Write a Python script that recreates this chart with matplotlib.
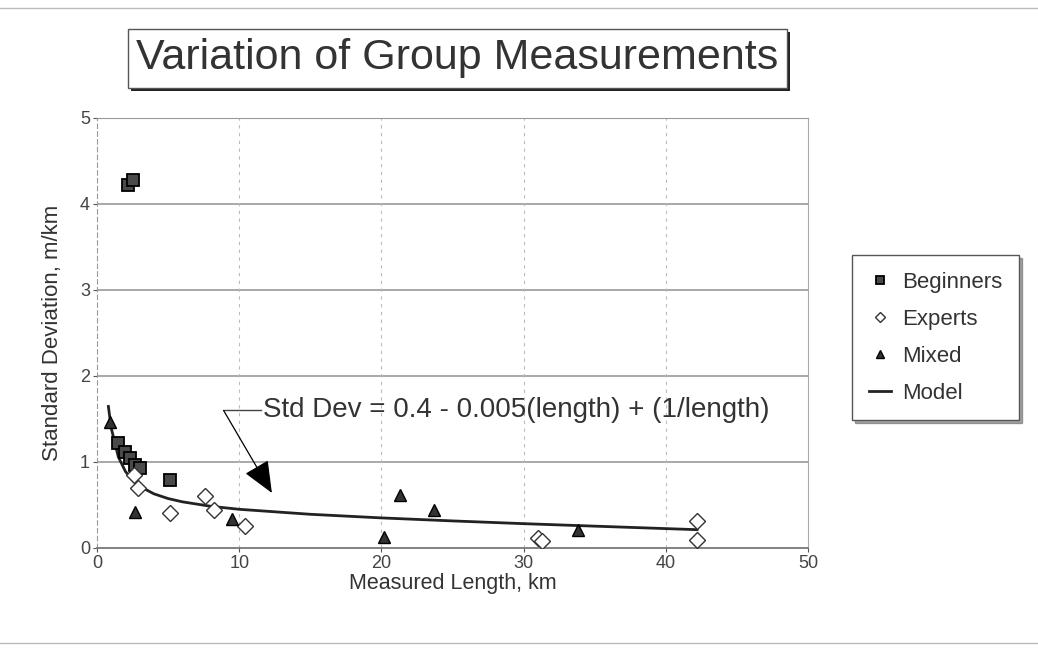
import numpy as np
import matplotlib.pyplot as plt
from matplotlib.patches import Rectangle

plt.rcParams['font.family'] = ['Liberation Sans', 'DejaVu Sans']

# data
beg_x = [1.5, 2.0, 2.3, 2.7, 3.0, 5.1, 2.2, 2.5]
beg_y = [1.22, 1.12, 1.05, 0.97, 0.93, 0.79, 4.22, 4.28]

exp_x = [2.6, 2.9, 5.1, 7.6, 8.2, 10.4, 31.0, 31.3, 42.2, 42.2]
exp_y = [0.85, 0.70, 0.41, 0.61, 0.44, 0.26, 0.12, 0.08, 0.31, 0.09]

mix_x = [0.9, 2.7, 9.5, 20.2, 21.3, 23.7, 33.8]
mix_y = [1.47, 0.42, 0.34, 0.125, 0.62, 0.44, 0.21]

# model curve, Std Dev = 0.4 - 0.005 L + 1/L, sampled values
mod_x = [0.8, 1.0, 1.5, 2.0, 2.5, 3.0, 4.0, 5.0, 6.0, 8.0, 10.0, 15.0, 20.0, 25.0, 30.0, 35.0, 42.2]
mod_y = [1.646, 1.395, 1.059, 0.890, 0.788, 0.718, 0.630, 0.575, 0.537, 0.485, 0.450, 0.392, 0.350, 0.315, 0.283, 0.254, 0.213]

fig = plt.figure(figsize=(10.38, 6.49), dpi=100)
ax = fig.add_axes([97/1038, 1-548/649, 711/1038, 430/649])

ax.plot(mod_x, mod_y, '-', color='#222222', lw=2, label='Model', zorder=2)
ax.plot(beg_x, beg_y, 's', ms=9, mfc='#4a4a4a', mec='black', mew=1.3, ls='none', label='Beginners', zorder=3)
ax.plot(exp_x, exp_y, 'D', ms=8, mfc='white', mec='#333333', mew=1.0, ls='none', label='Experts', zorder=3)
ax.plot(mix_x, mix_y, '^', ms=9, mfc='#333333', mec='black', ls='none', label='Mixed', zorder=3)

ax.set_xlim(0, 50)
ax.set_ylim(0, 5)
ax.set_xticks([0, 10, 20, 30, 40, 50])
ax.set_yticks([0, 1, 2, 3, 4, 5])
ax.tick_params(labelsize=13, colors='#555555', length=3, pad=2)
for t in ax.get_xticklabels() + ax.get_yticklabels():
    t.set_color('#444444')

for yv in [1, 2, 3, 4]:
    ax.axhline(yv, color='#999999', lw=1.2, zorder=0)
for xv in [10, 20, 30, 40]:
    ax.axvline(xv, color='#bbbbbb', lw=0.8, ls=(0, (3, 4)), zorder=0)
ax.spines['top'].set_color('#999999')
ax.spines['right'].set_color('#aaaaaa')
ax.spines['left'].set_color('#999999')
ax.spines['left'].set_linestyle((0, (4, 3)))
ax.spines['bottom'].set_color('#777777')
ax.spines['bottom'].set_linewidth(1.3)

ax.set_xlabel('Measured Length, km', fontsize=15.5, color='#333333', labelpad=1)
ax.set_ylabel('Standard Deviation, m/km', fontsize=16, color='#333333', labelpad=12)

# equation label with leader and arrow
ax.text(11.7, 1.6, 'Std Dev = 0.4 - 0.005(length) + (1/length)', fontsize=20,
        color='#333333', va='center', ha='left')
ax.plot([8.9, 11.5], [1.6, 1.6], color='#444444', lw=1)
ax.annotate('', xy=(12.3, 0.64), xytext=(8.9, 1.6),
            arrowprops=dict(arrowstyle='-|>,head_length=2.0,head_width=0.85',
                            color='black', lw=0.9, shrinkA=0, shrinkB=0))

# legend with shadow
handles, labels = ax.get_legend_handles_labels()
order = [1, 2, 3, 0]
leg = fig.legend([handles[i] for i in order], [labels[i] for i in order],
                 loc='upper left', bbox_to_anchor=(852/1038, 1-255/649),
                 fontsize=16, frameon=True, fancybox=False, shadow=True,
                 handlelength=1.0, markerscale=0.65, labelspacing=0.72,
                 borderpad=0.75, handletextpad=0.5, borderaxespad=0)
leg.get_frame().set_edgecolor('#555555')
leg.get_frame().set_linewidth(1)
for t in leg.get_texts():
    t.set_color('#333333')

# title box with shadow
tx0, ty0, tx1, ty1 = 128, 29, 787, 88
fig.patches.append(Rectangle((tx0/1038 + 3/1038, 1-ty1/649 - 3/649),
                             (tx1-tx0)/1038, (ty1-ty0)/649,
                             transform=fig.transFigure, facecolor='#222222',
                             edgecolor='none', zorder=1))
fig.patches.append(Rectangle((tx0/1038, 1-ty1/649), (tx1-tx0)/1038, (ty1-ty0)/649,
                             transform=fig.transFigure, facecolor='white',
                             edgecolor='#555555', lw=1, zorder=2))
fig.text((tx0+tx1)/2/1038, 1-(ty0+ty1)/2/649, 'Variation of Group Measurements',
         fontsize=31, color='#333333', ha='center', va='center', zorder=3)

# faint scan border
fig.add_artist(plt.Line2D([0, 1], [1-8/649, 1-8/649], color='#bbbbbb', lw=1))
fig.add_artist(plt.Line2D([0, 1], [1-643/649, 1-643/649], color='#bbbbbb', lw=1))

fig.savefig('out.png', dpi=100)
